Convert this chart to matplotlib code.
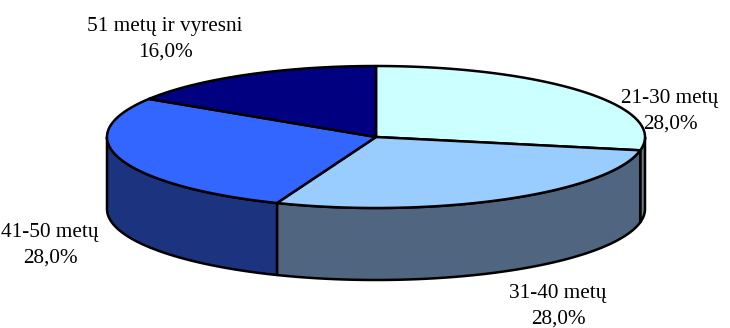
import numpy as np
import matplotlib.pyplot as plt
from matplotlib.patches import Polygon

plt.rcParams['font.family'] = ['Liberation Serif', 'DejaVu Serif']

labels = ["21-30 metų", "31-40 metų", "41-50 metų", "51 metų ir vyresni"]
shares = [28.0, 28.0, 28.0, 16.0]
top_colors = ["#CCFFFF", "#99CCFF", "#3366FF", "#000080"]
side_colors = ["#668080", "#4F6580", "#1C3380", "#000040"]
label_pos = [(670, 111), (558, 306), (50, 245), (165, 39)]

# pie geometry in pixel units
cx, cy = 376, 137
a, b = 269, 71
depth = 72

fig = plt.figure(figsize=(7.3, 3.28), dpi=100)
ax = fig.add_axes([0, 0, 1, 1])
ax.set_xlim(0, 730)
ax.set_ylim(328, 0)
ax.axis('off')


def arc(t0, t1, dy=0, n=200):
    t = np.radians(np.linspace(t0, t1, n))
    return np.column_stack([cx + a * np.cos(t), cy - b * np.sin(t) + dy])


fr = np.array(shares) / sum(shares)
ends = 90 - 360 * np.cumsum(fr)
starts = np.concatenate([[90], ends[:-1]])

# side walls (front half: angles between -180 and 0)
for s, e, sc in zip(starts, ends, side_colors):
    lo, hi = max(e, -180), min(s, 0)
    if lo >= hi:
        continue
    top = arc(hi, lo)
    bot = arc(lo, hi, depth)
    ax.add_patch(Polygon(np.vstack([top, bot]), closed=True, facecolor=sc,
                         edgecolor='black', lw=1.8, joinstyle='round'))

# top faces
for s, e, tc in zip(starts, ends, top_colors):
    pts = np.vstack([[cx, cy], arc(s, e), [cx, cy]])
    ax.add_patch(Polygon(pts, closed=True, facecolor=tc, edgecolor='black',
                         lw=1.8, joinstyle='round'))

for lab, v, (x, y) in zip(labels, shares, label_pos):
    ax.text(x, y, f"{lab}\n{v:.1f}%".replace('.', ','), ha='center',
            va='center', fontsize=15.3, linespacing=1.45)

fig.savefig("out.png", dpi=100)
